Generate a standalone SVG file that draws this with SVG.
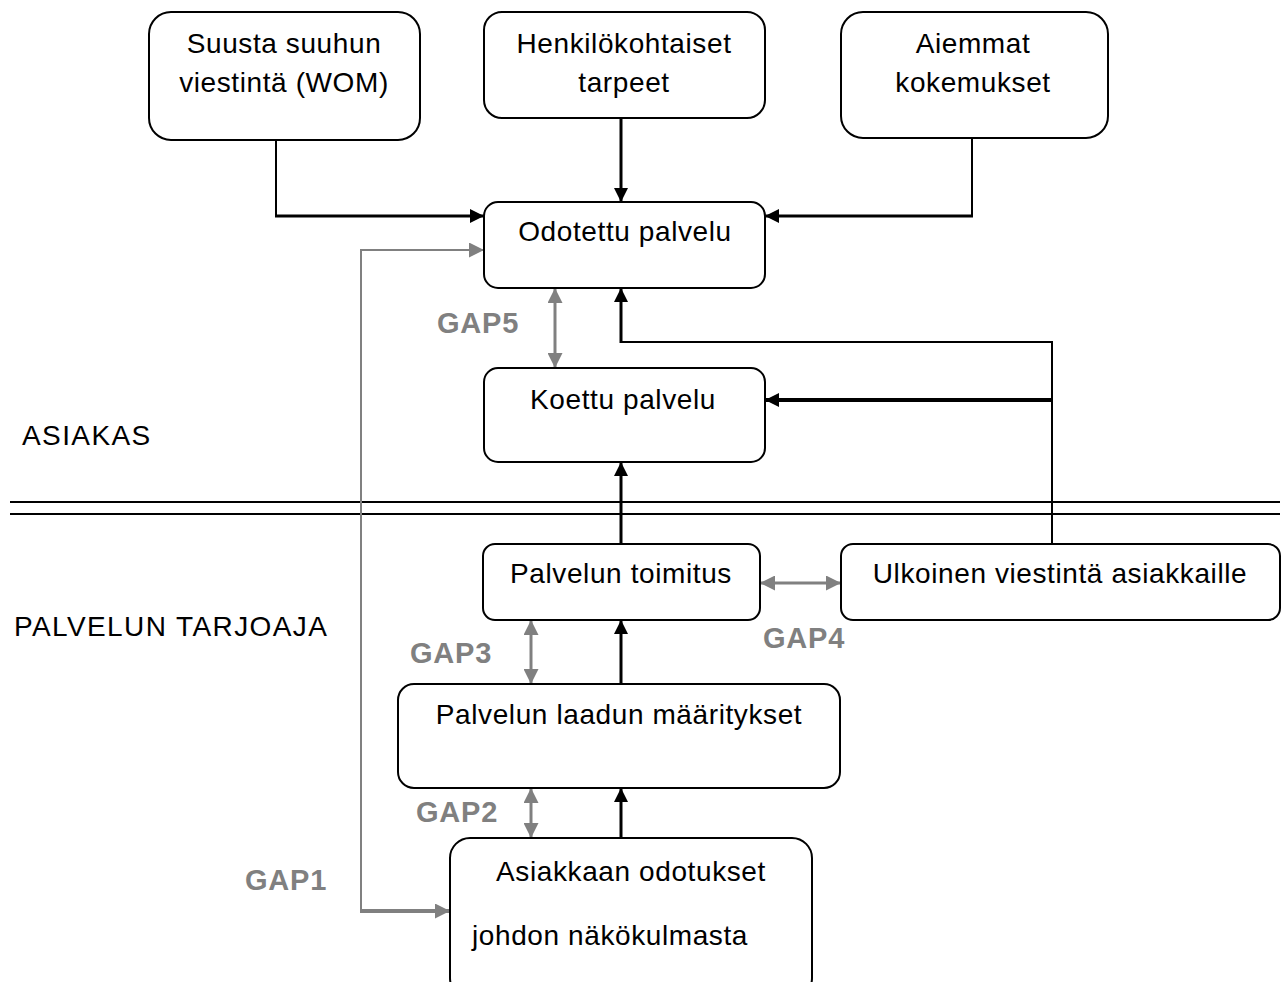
<svg xmlns="http://www.w3.org/2000/svg" width="1285" height="982" viewBox="0 0 1285 982">
<defs>
<style>
.box{fill:#fff;stroke:#000;stroke-width:2}
.t{font-family:"Liberation Sans",Arial,sans-serif;font-size:28px;fill:#000;letter-spacing:0.6px}
.c{text-anchor:middle}
.lane{letter-spacing:1.4px}
.g{font-family:"Liberation Sans",Arial,sans-serif;font-size:29px;font-weight:bold;fill:#808080;letter-spacing:0.8px}
.k{fill:none;stroke:#000}
.gy{fill:none;stroke:#808080}
</style>
<marker id="ab" viewBox="0 0 10 10" refX="10" refY="5" markerWidth="14" markerHeight="14" markerUnits="userSpaceOnUse" orient="auto-start-reverse"><path d="M0,0 L10,5 L0,10 Z" fill="#000"/></marker>
<marker id="ag" viewBox="0 0 10 10" refX="10" refY="5" markerWidth="15" markerHeight="15" markerUnits="userSpaceOnUse" orient="auto-start-reverse"><path d="M0,0 L10,5 L0,10 Z" fill="#808080"/></marker>
</defs>
<rect width="1285" height="982" fill="#fff"/>
<g id="separator">
<line x1="10" y1="502" x2="1280" y2="502" stroke="#000" stroke-width="2"/>
<line x1="10" y1="514" x2="1280" y2="514" stroke="#000" stroke-width="2"/>
</g>
<g id="lane-labels">
<text class="t lane" x="22" y="445">ASIAKAS</text>
<text class="t lane" x="14" y="636">PALVELUN TARJOAJA</text>
</g>
<g id="connectors">
<polyline class="k" stroke-width="2" points="276,140 276,216"/>
<line class="k" stroke-width="3" x1="275" y1="216" x2="484" y2="216" marker-end="url(#ab)"/>
<line class="k" stroke-width="3" x1="621" y1="118" x2="621" y2="202" marker-end="url(#ab)"/>
<polyline class="k" stroke-width="2" points="972,138 972,216"/>
<line class="k" stroke-width="3" x1="973" y1="216" x2="765" y2="216" marker-end="url(#ab)"/>
<polyline class="k" stroke-width="2" points="1052,544 1052,342 621,342"/>
<line class="k" stroke-width="3" x1="621" y1="343" x2="621" y2="288" marker-end="url(#ab)"/>
<line class="k" stroke-width="4" x1="1053" y1="400" x2="765" y2="400" marker-end="url(#ab)"/>
<line class="k" stroke-width="3" x1="621" y1="544" x2="621" y2="462" marker-end="url(#ab)"/>
<line class="k" stroke-width="3" x1="621" y1="685" x2="621" y2="620" marker-end="url(#ab)"/>
<line class="k" stroke-width="3" x1="621" y1="838" x2="621" y2="788" marker-end="url(#ab)"/>
<line class="gy" stroke-width="3" x1="555" y1="288" x2="555" y2="368" marker-start="url(#ag)" marker-end="url(#ag)"/>
<line class="gy" stroke-width="3" x1="531" y1="620" x2="531" y2="684" marker-start="url(#ag)" marker-end="url(#ag)"/>
<line class="gy" stroke-width="3" x1="531" y1="788" x2="531" y2="838" marker-start="url(#ag)" marker-end="url(#ag)"/>
<line class="gy" stroke-width="3" x1="760" y1="583" x2="841" y2="583" marker-start="url(#ag)" marker-end="url(#ag)"/>
<polyline class="gy" stroke-width="2" points="484,250 361,250 361,911"/>
<line class="gy" stroke-width="2" x1="470" y1="250" x2="484" y2="250" marker-end="url(#ag)"/>
<line class="gy" stroke-width="4" x1="360" y1="911" x2="450" y2="911" marker-end="url(#ag)"/>
</g>
<g id="gap-labels">
<text class="g" x="437" y="333">GAP5</text>
<text class="g" x="410" y="663">GAP3</text>
<text class="g" x="416" y="822">GAP2</text>
<text class="g" x="763" y="648">GAP4</text>
<text class="g" x="245" y="890">GAP1</text>
</g>
<g id="wom">
<rect class="box" x="149" y="12" width="271" height="128" rx="22"/>
<text class="t c" x="284" y="53">Suusta suuhun</text>
<text class="t c" x="284" y="92">viestintä (WOM)</text>
</g>
<g id="tarpeet">
<rect class="box" x="484" y="12" width="281" height="106" rx="18"/>
<text class="t c" x="624" y="53">Henkilökohtaiset</text>
<text class="t c" x="624" y="92">tarpeet</text>
</g>
<g id="kokemukset">
<rect class="box" x="841" y="12" width="267" height="126" rx="22"/>
<text class="t c" x="973" y="53">Aiemmat</text>
<text class="t c" x="973" y="92">kokemukset</text>
</g>
<g id="odotettu">
<rect class="box" x="484" y="202" width="281" height="86" rx="14"/>
<text class="t c" x="625" y="241">Odotettu palvelu</text>
</g>
<g id="koettu">
<rect class="box" x="484" y="368" width="281" height="94" rx="14"/>
<text class="t c" x="623" y="409">Koettu palvelu</text>
</g>
<g id="toimitus">
<rect class="box" x="483" y="544" width="277" height="76" rx="12"/>
<text class="t c" x="621" y="583">Palvelun toimitus</text>
</g>
<g id="ulkoinen">
<rect class="box" x="841" y="544" width="439" height="76" rx="12"/>
<text class="t c" x="1060" y="583">Ulkoinen viestintä asiakkaille</text>
</g>
<g id="maaritykset">
<rect class="box" x="398" y="684" width="442" height="104" rx="16"/>
<text class="t c" x="619" y="724">Palvelun laadun määritykset</text>
</g>
<g id="asiakkaan">
<rect class="box" x="450" y="838" width="362" height="160" rx="20"/>
<text class="t c" x="631" y="881">Asiakkaan odotukset</text>
<text class="t" x="472" y="945">johdon näkökulmasta</text>
</g>
</svg>
